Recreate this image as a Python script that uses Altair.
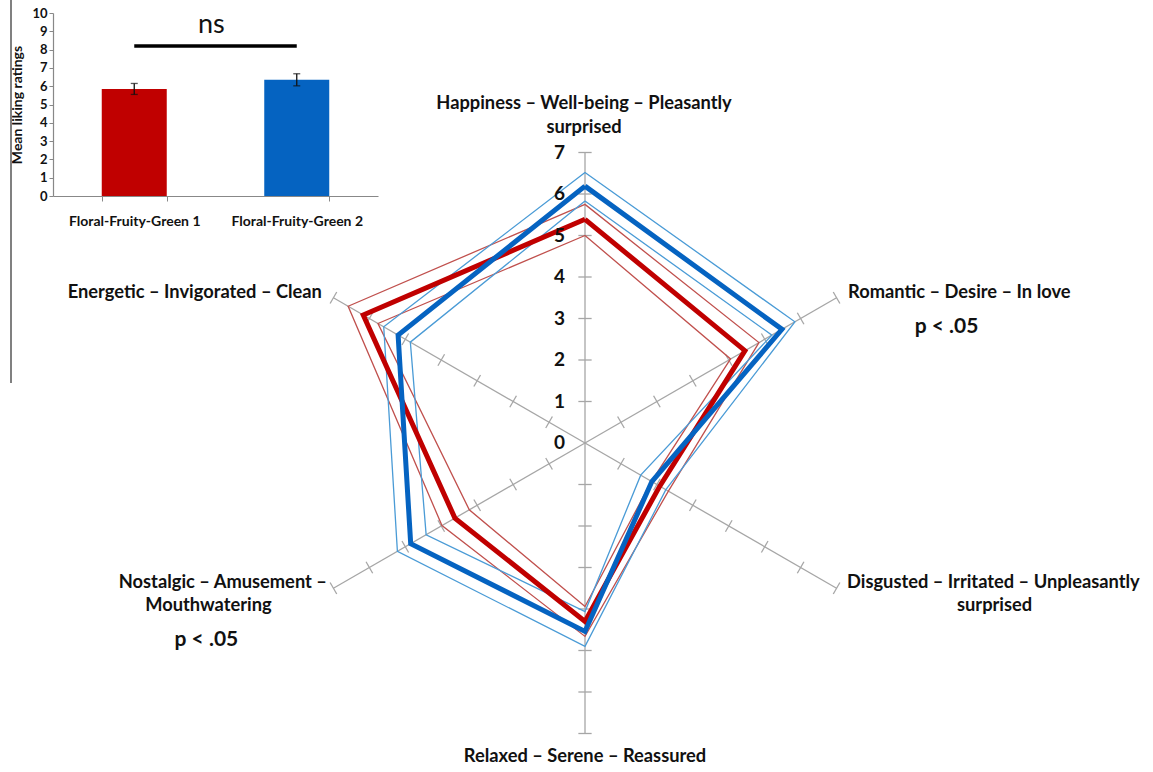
import altair as alt
import pandas as pd

# ---------------- data ----------------
categories = [
    "Happiness – Well-being – Pleasantly surprised",
    "Romantic – Desire – In love",
    "Disgusted – Irritated – Unpleasantly surprised",
    "Relaxed – Serene – Reassured",
    "Nostalgic – Amusement – Mouthwatering",
    "Energetic – Invigorated – Clean",
]
angles_deg = [90, 30, -30, -90, -150, 150]  # clockwise from top

ffg1_mean = [5.39, 4.45, 2.08, 4.30, 3.62, 6.17]
ffg1_upper = [5.75, 4.84, 2.32, 4.66, 3.98, 6.59]
ffg1_lower = [5.00, 4.05, 1.85, 3.94, 3.22, 5.76]
ffg2_mean = [6.19, 5.48, 1.86, 4.54, 4.85, 5.20]
ffg2_upper = [6.52, 5.84, 2.25, 4.90, 5.22, 5.60]
ffg2_lower = [5.83, 5.20, 1.55, 4.06, 4.42, 4.86]

radar_ticks = [0, 1, 2, 3, 4, 5, 6, 7]

products = ["Floral-Fruity-Green 1", "Floral-Fruity-Green 2"]
liking_means = [5.85, 6.35]
liking_err = [0.30, 0.33]
bar_colors = ["#C00000", "#0563C1"]

# ---------------- layout ----------------
W, H = 1153, 772
CX, CY, UNIT = 585, 443, 41.5
FONT = "Lato"

rx = alt.Scale(domain=[-CX / UNIT, (W - CX) / UNIT], range=[0, W], nice=False, zero=False)
ry = alt.Scale(domain=[-(H - CY) / UNIT, CY / UNIT], range=[H, 0], nice=False, zero=False)

# ---------------- radar ----------------
series = {
    "ffg1_lower": ffg1_lower, "ffg1_upper": ffg1_upper,
    "ffg2_lower": ffg2_lower, "ffg2_upper": ffg2_upper,
    "ffg1_mean": ffg1_mean, "ffg2_mean": ffg2_mean,
}
rows = []
for name, vals in series.items():
    for k in range(len(categories) + 1):
        i = k % len(categories)
        rows.append({"series": name, "cat": categories[i], "angle": angles_deg[i],
                     "value": vals[i], "order": k})
radar_df = pd.DataFrame(rows)

def poly(names, color, width):
    return (
        alt.Chart(radar_df)
        .transform_filter(alt.FieldOneOfPredicate(field="series", oneOf=names))
        .transform_calculate(
            px="datum.value*cos(datum.angle*PI/180)",
            py="datum.value*sin(datum.angle*PI/180)",
        )
        .mark_line(color=color, strokeWidth=width, strokeJoin="miter")
        .encode(
            x=alt.X("px:Q", scale=rx, axis=None),
            y=alt.Y("py:Q", scale=ry, axis=None),
            detail="series:N",
            order="order:Q",
        )
    )

spoke_df = pd.DataFrame({"cat": categories, "angle": angles_deg})
spokes = (
    alt.Chart(spoke_df)
    .transform_calculate(
        x0="0", y0="0",
        x1="7*cos(datum.angle*PI/180)", y1="7*sin(datum.angle*PI/180)",
    )
    .mark_rule(color="#A6A6A6", strokeWidth=1.3)
    .encode(
        x=alt.X("x0:Q", scale=rx, axis=None),
        y=alt.Y("y0:Q", scale=ry, axis=None),
        x2="x1:Q", y2="y1:Q",
    )
)

tick_rows = [{"angle": a, "r": r} for a in angles_deg for r in radar_ticks[1:]]
tick_df = pd.DataFrame(tick_rows)
h = 0.16
spoke_ticks = (
    alt.Chart(tick_df)
    .transform_calculate(a="datum.angle*PI/180")
    .transform_calculate(
        tx1=f"datum.r*cos(datum.a)+{h}*sin(datum.a)",
        ty1=f"datum.r*sin(datum.a)-{h}*cos(datum.a)",
        tx2=f"datum.r*cos(datum.a)-{h}*sin(datum.a)",
        ty2=f"datum.r*sin(datum.a)+{h}*cos(datum.a)",
    )
    .mark_rule(color="#A6A6A6", strokeWidth=1.3)
    .encode(
        x=alt.X("tx1:Q", scale=rx, axis=None),
        y=alt.Y("ty1:Q", scale=ry, axis=None),
        x2="tx2:Q", y2="ty2:Q",
    )
)

num_df = pd.DataFrame({"r": radar_ticks, "label": [str(t) for t in radar_ticks]})
numbers = (
    alt.Chart(num_df)
    .transform_calculate(x0="0")
    .mark_text(align="right", baseline="middle", dx=-20, font=FONT, fontSize=19,
               fontWeight="bold", color="#111")
    .encode(
        x=alt.X("x0:Q", scale=rx, axis=None),
        y=alt.Y("r:Q", scale=ry, axis=None),
        text="label:N",
    )
)

# label lines: (text, category index, dx, dy, align)
label_specs = [
    ("Happiness – Well-being – Pleasantly", 0, -1, -48.5, "center"),
    ("surprised", 0, -1, -24.5, "center"),
    ("Romantic – Desire – In love", 1, 11.5, -5, "left"),
    ("p < .05", 1, 110, 29, "center"),
    ("Disgusted – Irritated – Unpleasantly", 2, 10.5, -5, "left"),
    ("surprised", 2, 158, 18, "center"),
    ("Relaxed – Serene – Reassured", 3, 0, 23.5, "center"),
    ("Nostalgic – Amusement –", 4, -6.5, -5, "right"),
    ("Mouthwatering", 4, -125, 18, "center"),
    ("p < .05", 4, -127, 52, "center"),
    ("Energetic – Invigorated – Clean", 5, -11.5, -5, "right"),
]
label_layers = []
for text, ci, dx, dy, align in label_specs:
    big = text.startswith("p <")
    lab = (
        alt.Chart(pd.DataFrame({"angle": [angles_deg[ci]], "t": [text]}))
        .transform_calculate(
            ex="7*cos(datum.angle*PI/180)", ey="7*sin(datum.angle*PI/180)",
        )
        .mark_text(align=align, baseline="middle", dx=dx, dy=dy, font=FONT,
                   fontSize=21 if big else 18.3, fontWeight="bold", color="#111")
        .encode(
            x=alt.X("ex:Q", scale=rx, axis=None),
            y=alt.Y("ey:Q", scale=ry, axis=None),
            text="t:N",
        )
    )
    label_layers.append(lab)

radar = alt.layer(
    spokes, spoke_ticks,
    poly(["ffg1_lower", "ffg1_upper"], "#C0504D", 1.3),
    poly(["ffg2_lower", "ffg2_upper"], "#4A9BD6", 1.3),
    poly(["ffg1_mean"], "#C00000", 5),
    poly(["ffg2_mean"], "#0563C1", 5),
    numbers, *label_layers,
)

# ---------------- inset bar chart ----------------
bar_df = pd.DataFrame({"product": products, "mean": liking_means, "err": liking_err})
bx = alt.Scale(domain=products, range=[53, 378], paddingInner=0.6, paddingOuter=0.3)
by = alt.Scale(domain=[0, 10], range=[196, 13], nice=False, zero=True)

bars = (
    alt.Chart(bar_df)
    .mark_bar()
    .encode(
        x=alt.X("product:N", scale=bx, sort=products,
                axis=alt.Axis(orient="bottom", offset=196 - H, title=None, labelAngle=0,
                              tickBand="extent", tickSize=5, tickColor="#888",
                              domainColor="#888", domainWidth=1.2,
                              labelFont=FONT, labelFontSize=14, labelFontWeight="bold",
                              labelColor="#111", labelPadding=13)),
        y=alt.Y("mean:Q", scale=by,
                axis=alt.Axis(orient="left", offset=-53, values=list(range(11)), format="d",
                              title="Mean liking ratings", titleFont=FONT,
                              titleFontSize=14, titleFontWeight="bold", titleColor="#111",
                              titleX=-29, labelFont=FONT, labelFontSize=13,
                              labelFontWeight="bold", labelColor="#111", tickSize=4,
                              tickColor="#888", domainColor="#888", domainWidth=1.2,
                              grid=False, labelPadding=2)),
        color=alt.Color("product:N", scale=alt.Scale(domain=products, range=bar_colors),
                        legend=None),
    )
)

errs = (
    alt.Chart(bar_df)
    .transform_calculate(lo="datum.mean-datum.err", hi="datum.mean+datum.err")
    .mark_rule(color="#111", strokeWidth=1.3)
    .encode(x=alt.X("product:N", scale=bx), y=alt.Y("lo:Q", scale=by), y2="hi:Q")
)
caps_hi = (
    alt.Chart(bar_df)
    .transform_calculate(hi="datum.mean+datum.err")
    .mark_tick(color="#111", size=7, thickness=1.3)
    .encode(x=alt.X("product:N", scale=bx), y=alt.Y("hi:Q", scale=by))
)
caps_lo = (
    alt.Chart(bar_df)
    .transform_calculate(lo="datum.mean-datum.err")
    .mark_tick(color="#111", size=7, thickness=1.3)
    .encode(x=alt.X("product:N", scale=bx), y=alt.Y("lo:Q", scale=by))
)

sig_df = pd.DataFrame({"a": [products[0]], "b": [products[1]], "y": [8.2], "ns_y": [9.35],
                       "label": ["ns"]})
sig_line = (
    alt.Chart(sig_df)
    .mark_rule(color="#000", strokeWidth=3.5)
    .encode(x=alt.X("a:N", scale=bx), x2="b:N", y=alt.Y("y:Q", scale=by))
)
ns_text = (
    alt.Chart(sig_df)
    .mark_text(font=FONT, fontSize=27, color="#111", baseline="middle", dx=77)
    .encode(x=alt.X("a:N", scale=bx), y=alt.Y("ns_y:Q", scale=by), text="label:N")
)
border = (
    alt.Chart(sig_df)
    .mark_rule(color="#808080", strokeWidth=2)
    .encode(x=alt.value(11), y=alt.value(0), y2=alt.value(383))
)

inset = alt.layer(bars, errs, caps_hi, caps_lo, sig_line, ns_text, border)

chart = (
    alt.layer(radar, inset)
    .resolve_scale(x="independent", y="independent", color="independent")
    .properties(width=W, height=H, padding=0, autosize=alt.AutoSizeParams(type="none"))
    .configure_view(stroke=None)
)

chart.save("out.html", embed_options={"renderer": "svg", "actions": False})
